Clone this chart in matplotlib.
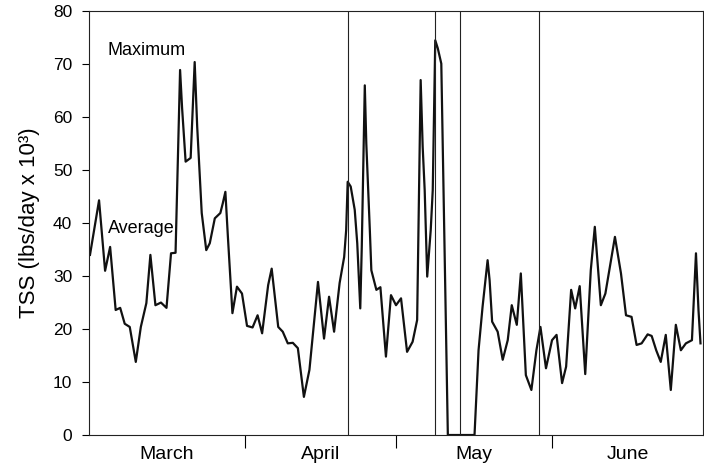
import matplotlib.pyplot as plt

plt.rcParams['font.family'] = ['Liberation Sans', 'DejaVu Sans']

# daily TSS load, days counted from 1 March
day = [0.2, 2.0, 3.2, 4.2, 5.3, 6.2, 7.1, 8.1, 9.3, 10.3, 11.4, 12.2, 13.2, 14.3,
       15.4, 16.3, 17.2, 18.1, 18.5, 19.2, 20.2, 21.0, 21.5, 22.4, 23.3, 24.0,
       25.0, 26.1, 26.6, 27.1, 27.6, 28.5, 29.4, 30.4, 31.4, 32.5, 33.5, 34.4,
       35.6, 36.3, 37.6, 38.5, 39.5, 40.5, 41.5, 42.7, 43.8, 45.5, 46.7, 47.7,
       48.7, 49.8, 50.7, 51.1, 51.4, 52.0, 52.8, 53.3, 53.9, 54.2, 54.8, 55.1,
       55.8, 56.1, 57.1, 57.9, 59.0, 60.0, 61.0, 62.0, 63.2, 64.3, 65.2, 65.9,
       66.3, 66.7, 67.2, 67.9, 68.3, 68.8, 69.3, 70.0, 71.3, 76.6, 77.4, 78.2,
       79.2, 79.6, 80.1, 81.2, 82.2, 83.2, 84.0, 85.0, 85.8, 86.8, 87.9, 88.9,
       89.7, 90.8, 92.0, 92.9, 94.0, 94.8, 95.8, 96.6, 97.5, 98.6, 99.7, 100.5,
       101.7, 102.6, 104.5, 105.7, 106.7, 107.8, 108.8, 109.8, 111.0, 111.8,
       112.7, 113.6, 114.6, 115.6, 116.6, 117.6, 118.6, 119.8, 120.2, 120.6,
       121.1, 121.5]
tss = [34, 44.3, 31, 35.5, 23.6, 24, 21, 20.4, 13.8, 20.4, 24.9, 34, 24.5, 25,
       24, 34.3, 34.4, 68.9, 61.7, 51.6, 52.3, 70.4, 58.2, 41.9, 34.9, 36.2,
       40.9, 41.9, 43.8, 45.9, 37.4, 23, 28, 26.7, 20.6, 20.3, 22.6, 19.2,
       28.3, 31.4, 20.4, 19.5, 17.3, 17.4, 16.4, 7.2, 12.3, 28.9, 18.2, 26.1,
       19.5, 28.7, 33.6, 38.7, 47.8, 46.9, 42.5, 36.2, 23.9, 35.5, 66, 55,
       38.7, 31.1, 27.4, 27.9, 14.8, 26.4, 24.5, 25.8, 15.7, 17.6, 21.7, 67,
       54.4, 46.2, 29.9, 38.7, 46.2, 74.5, 73, 70.1, 0, 0, 16, 24.2,
       33, 29.2, 21.4, 19.5, 14.2, 17.9, 24.5, 20.8, 30.5, 11.3, 8.5, 16,
       20.4, 12.6, 17.9, 18.9, 9.8, 12.9, 27.4, 23.9, 28.1, 11.5, 31.1, 39.3,
       24.5, 26.7, 37.4, 30.5, 22.6, 22.3, 17, 17.3, 19, 18.7,
       16, 13.8, 18.9, 8.5, 20.8, 16, 17.3, 17.9, 26.1, 34.3,
       23.6, 17.3]

event_days = [51.5, 68.7, 73.7, 89.4]
month_starts = [31, 61, 92]
month_mids = [15.5, 46, 76.5, 107]
months = ['March', 'April', 'May', 'June']

fig = plt.figure(figsize=(7.04, 4.66), dpi=100)
ax = fig.add_axes([0.1264, 0.0665, 0.8722, 0.9095])

ax.plot(day, tss, color='#111111', linewidth=1.6)
for d in event_days:
    ax.axvline(d, color='#222222', linewidth=0.8)

ax.set_xlim(0, 122)
ax.set_ylim(0, 80)
ax.set_yticks(range(0, 81, 10))
ax.set_xticks(month_starts)
ax.set_xticklabels([])
ax.set_xticks(month_mids, minor=True)
ax.set_xticklabels(months, minor=True, fontsize=14)
ax.tick_params(axis='x', which='major', length=9, width=0.8, direction='out')
ax.tick_params(axis='x', which='minor', length=0, pad=8)
ax.tick_params(axis='y', length=5, width=0.8, pad=7, labelsize=12.5)

for s in ax.spines.values():
    s.set_linewidth(0.8)
    s.set_color('#222222')

ax.set_ylabel('TSS (lbs/day x 10³)', fontsize=16, labelpad=9)

ax.text(3.6, 72.6, 'Maximum', fontsize=13, va='center', ha='left')
ax.text(3.8, 39, 'Average', fontsize=13, va='center', ha='left')

fig.savefig('out.png', dpi=100)
